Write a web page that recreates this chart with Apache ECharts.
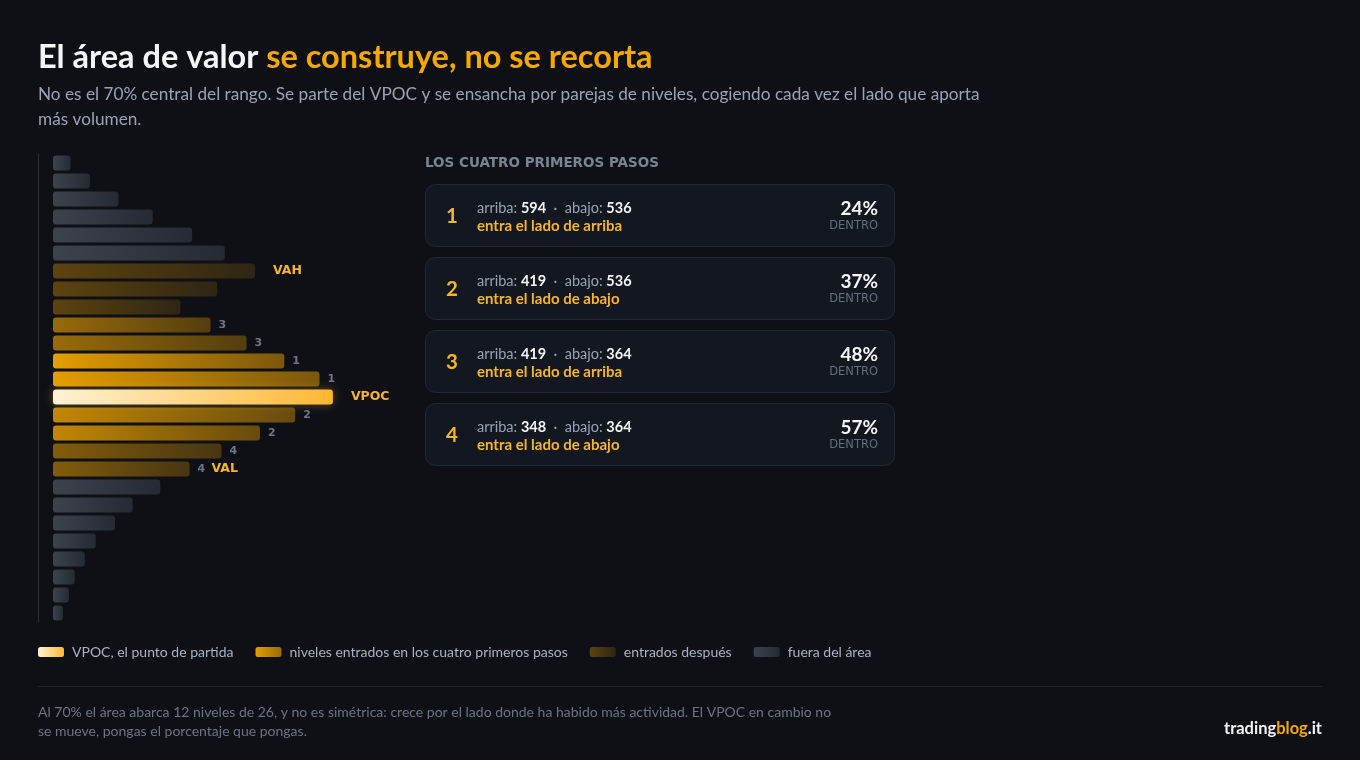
<!DOCTYPE html>
<html>
<head>
<meta charset="utf-8">
<script src="https://cdn.jsdelivr.net/npm/echarts@6/dist/echarts.min.js"></script>
<style>
  html, body { margin: 0; padding: 0; background: #0e1016; }
  #chart { width: 1360px; height: 760px; }
</style>
</head>
<body>
<div id="chart"></div>
<script>
// ---------- DATA ----------
const levelNames = ['N26','N25','N24','N23','N22','N21','N20','N19','N18','N17','N16','N15','N14','N13','N12','N11','N10','N9','N8','N7','N6','N5','N4','N3','N2','N1'];
const volumes    = [21, 44, 78, 119, 166, 205, 241, 196, 152, 188, 231, 276, 318, 334, 289, 247, 201, 163, 128, 95, 74, 51, 38, 26, 19, 12];
const roles      = ['out','out','out','out','out','out','late','late','late','step','step','step','step','vpoc','step','step','step','step','out','out','out','out','out','out','out','out'];
const stepOf     = [0,0,0,0,0,0,0,0,0,3,3,1,1,0,2,2,4,4,0,0,0,0,0,0,0,0];
const levelTags  = ['','','','','','','VAH','','','','','','','VPOC','','','','VAL','','','','','','','',''];

const legendNames = {
  vpoc: 'VPOC, el punto de partida',
  step: 'niveles entrados en los cuatro primeros pasos',
  late: 'entrados después',
  out:  'fuera del área'
};

const stepNo     = [1, 2, 3, 4];
const upVol      = [594, 419, 419, 348];
const downVol    = [536, 536, 364, 364];
const chosenSide = ['arriba', 'abajo', 'arriba', 'abajo'];
const pctInside  = [24, 37, 48, 57];

// ---------- STYLE ----------
const FONT = 'Lato, "Noto Sans", sans-serif';
const WIDE = '"DejaVu Sans", sans-serif';
const ORANGE = '#f5a800';
const ORANGE_TXT = '#f7b52a';

function grad(a, b) {
  return { type: 'linear', x: 0, y: 0, x2: 1, y2: 0, colorStops: [{ offset: 0, color: a }, { offset: 1, color: b }] };
}
const stepAlpha = { 1: 0.93, 2: 0.78, 3: 0.6, 4: 0.5 };
function colorFor(i) {
  const r = roles[i];
  if (r === 'vpoc') return grad('#fff2d4', '#ffb733');
  if (r === 'late') return grad('rgba(245,168,0,0.34)', 'rgba(245,168,0,0.14)');
  if (r === 'out') return grad('#3d424d', '#262a33');
  const a = stepAlpha[stepOf[i]];
  return grad('rgba(245,168,0,' + a + ')', 'rgba(245,168,0,' + (a * 0.5).toFixed(2) + ')');
}
const seriesColor = {
  vpoc: grad('#fff2d4', '#ffb733'),
  step: grad('rgba(245,168,0,0.93)', 'rgba(245,168,0,0.6)'),
  late: grad('rgba(245,168,0,0.34)', 'rgba(245,168,0,0.14)'),
  out:  grad('#3d424d', '#262a33')
};

function labelFor(i) {
  const s = stepOf[i], t = levelTags[i];
  if (!s && !t) return { show: false };
  let f = '';
  if (s) f += '{n|' + s + '}';
  if (s && t) f += '  ';
  if (t) f += '{t|' + t + '}';
  return {
    show: true, position: 'right', distance: (t && !s) ? 18 : 8, formatter: f,
    rich: {
      n: { color: '#6d7687', fontSize: 11, fontWeight: 'bold', fontFamily: WIDE },
      t: { color: ORANGE_TXT, fontSize: 12.5, fontWeight: 'bold', fontFamily: WIDE }
    }
  };
}

function seriesFor(role) {
  return {
    name: legendNames[role],
    type: 'bar',
    barWidth: 15,
    barGap: '-100%',
    itemStyle: { color: seriesColor[role], borderRadius: 3 },
    emphasis: { disabled: true },
    data: volumes.map((v, i) => roles[i] === role ? {
      value: v,
      itemStyle: Object.assign({ color: colorFor(i) },
        role === 'vpoc' ? { shadowBlur: 10, shadowColor: 'rgba(255,183,51,0.35)' } : {}),
      label: labelFor(i)
    } : '-')
  };
}

// ---------- GRAPHIC (texts, cards) ----------
const graphics = [
  { type: 'text', left: 38, top: 41, style: {
      text: '{w|El área de valor }{o|se construye, no se recorta}',
      rich: {
        w: { fill: '#f4f5f7', fontSize: 32.5, fontWeight: 'bold', fontFamily: FONT },
        o: { fill: ORANGE, fontSize: 32.5, fontWeight: 'bold', fontFamily: FONT }
      } } },
  { type: 'text', left: 38, top: 82, style: {
      text: 'No es el 70% central del rango. Se parte del VPOC y se ensancha por parejas de niveles, cogiendo cada vez el lado que aporta\nmás volumen.',
      fill: '#9aa3b3', fontSize: 17.2, lineHeight: 25, fontFamily: FONT } },
  { type: 'text', left: 425, top: 156, style: {
      text: 'LOS CUATRO PRIMEROS PASOS', fill: '#7b8494', fontSize: 13.5, fontWeight: 'bold', fontFamily: WIDE } },
  { type: 'line', shape: { x1: 38, y1: 686.5, x2: 1322, y2: 686.5 }, style: { stroke: '#20242d', lineWidth: 1 } },
  { type: 'text', left: 38, top: 703, style: {
      text: 'Al 70% el área abarca 12 niveles de 26, y no es simétrica: crece por el lado donde ha habido más actividad. El VPOC en cambio no\nse mueve, pongas el porcentaje que pongas.',
      fill: '#6b7384', fontSize: 14, lineHeight: 19, fontFamily: FONT } },
  { type: 'text', right: 38, top: 720, style: {
      text: '{w|trading}{o|blog}{w|.it}',
      rich: {
        w: { fill: '#f4f5f7', fontSize: 16.5, fontWeight: 'bold', fontFamily: FONT },
        o: { fill: ORANGE, fontSize: 16.5, fontWeight: 'bold', fontFamily: FONT }
      } } }
];

stepNo.forEach((n, k) => {
  const y0 = 184 + k * 73;
  graphics.push({
    type: 'group', x: 425, y: y0,
    children: [
      { type: 'rect', shape: { x: 0.5, y: 0.5, width: 469, height: 62, r: 10 },
        style: { fill: '#131720', stroke: '#232834', lineWidth: 1 } },
      { type: 'text', x: 27, y: 32, style: {
          text: String(n), fill: ORANGE_TXT, fontSize: 20.5, fontWeight: 'bold', fontFamily: FONT,
          textAlign: 'center', textVerticalAlign: 'middle' } },
      { type: 'text', x: 52, y: 24, style: {
          text: '{g|arriba: }{b|' + upVol[k] + '}{g|  ·  abajo: }{b|' + downVol[k] + '}',
          textVerticalAlign: 'middle',
          rich: {
            g: { fill: '#9aa3b3', fontSize: 14.5, fontFamily: FONT },
            b: { fill: '#f4f5f7', fontSize: 14.5, fontWeight: 'bold', fontFamily: FONT }
          } } },
      { type: 'text', x: 52, y: 42, style: {
          text: 'entra el lado de ' + chosenSide[k], fill: ORANGE_TXT, fontSize: 15, fontWeight: 'bold',
          fontFamily: FONT, textVerticalAlign: 'middle' } },
      { type: 'text', x: 453, y: 25, style: {
          text: pctInside[k] + '%', fill: '#f4f5f7', fontSize: 19, fontWeight: 'bold', fontFamily: FONT,
          textAlign: 'right', textVerticalAlign: 'middle' } },
      { type: 'text', x: 453, y: 42, style: {
          text: 'DENTRO', fill: '#656d7d', fontSize: 11.5, fontFamily: WIDE,
          textAlign: 'right', textVerticalAlign: 'middle' } }
    ]
  });
});

// ---------- CHART ----------
const chart = echarts.init(document.getElementById('chart'), null, { renderer: 'canvas' });
chart.setOption({
  backgroundColor: '#0e1016',
  animation: false,
  textStyle: { fontFamily: FONT },
  grid: { left: 53, top: 154, width: 300, height: 468, containLabel: false },
  xAxis: { type: 'value', min: 0, max: 358, show: false },
  yAxis: {
    type: 'category', inverse: true, data: levelNames, offset: 15,
    axisLine: { show: true, onZero: false, lineStyle: { color: '#2a2e38', width: 1 } },
    axisTick: { show: false }, axisLabel: { show: false }, splitLine: { show: false }
  },
  legend: {
    left: 38, top: 645, padding: 0, itemWidth: 26, itemHeight: 10, itemGap: 22, icon: 'roundRect',
    selectedMode: false,
    textStyle: { color: '#aab2c0', fontSize: 14, fontFamily: FONT, padding: [0, 0, 0, 3] },
    data: [legendNames.vpoc, legendNames.step, legendNames.late, legendNames.out]
  },
  series: [seriesFor('out'), seriesFor('late'), seriesFor('step'), seriesFor('vpoc')],
  graphic: graphics
});
</script>
</body>
</html>
